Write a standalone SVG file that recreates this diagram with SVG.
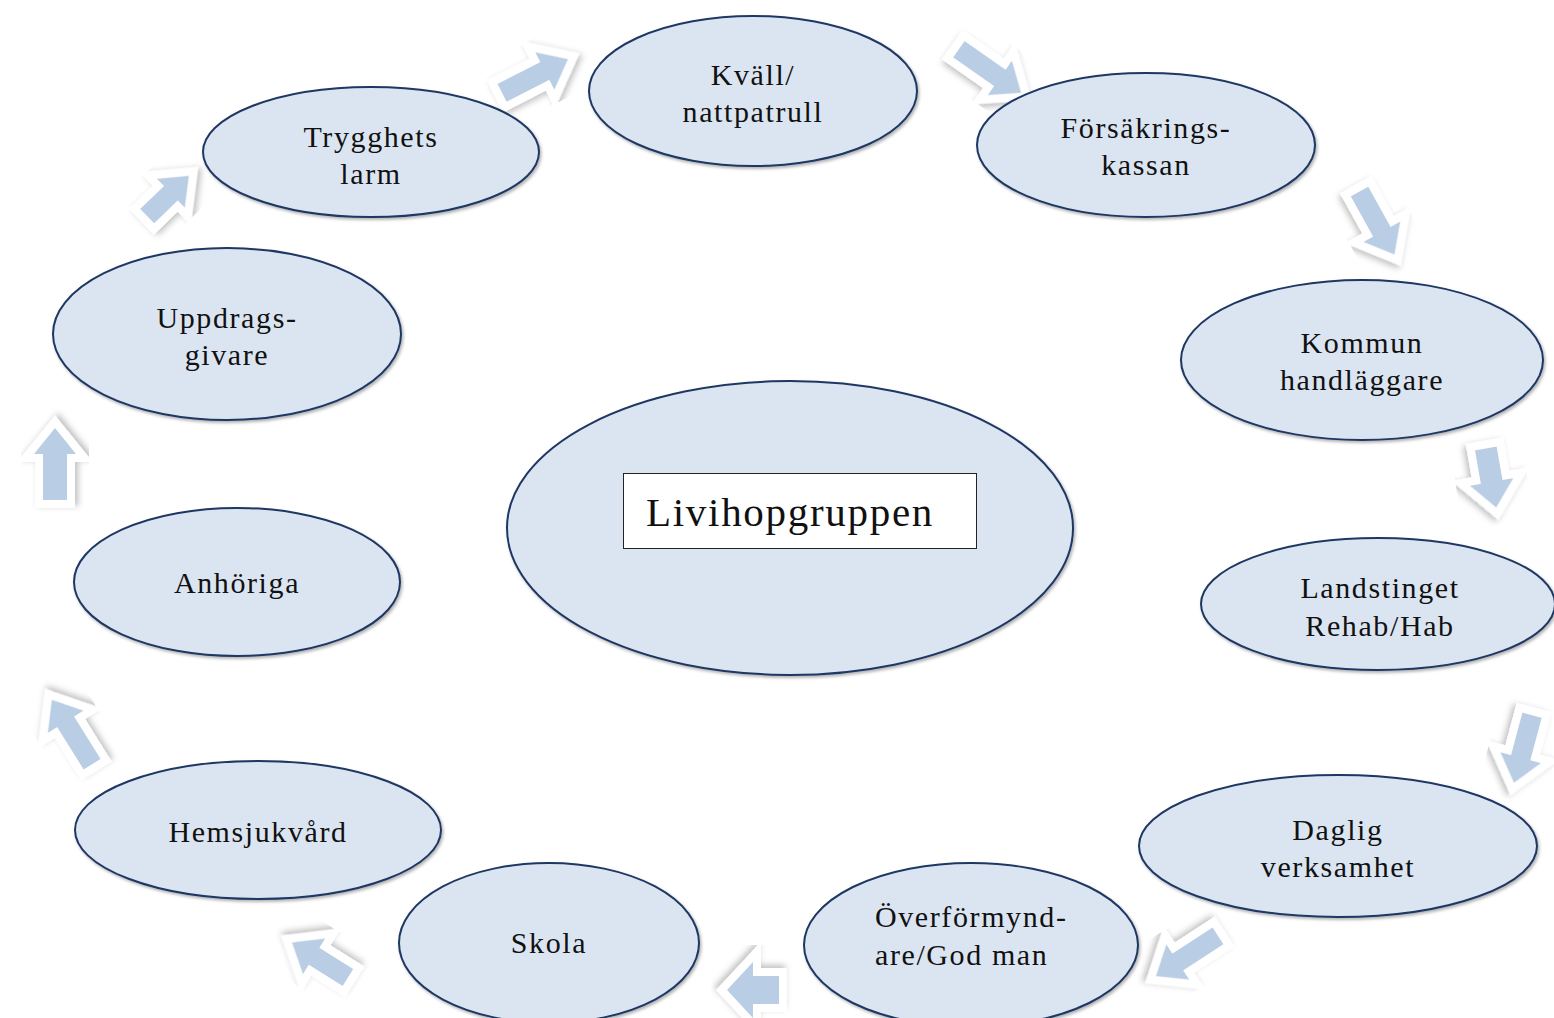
<svg xmlns="http://www.w3.org/2000/svg" width="1554" height="1018" viewBox="0 0 1554 1018">
<defs>
<filter id="sh" x="-20%" y="-20%" width="140%" height="140%">
<feDropShadow dx="1.5" dy="2" stdDeviation="1.5" flood-color="#000" flood-opacity="0.3"/>
</filter>
<filter id="ash" x="-30%" y="-30%" width="160%" height="160%">
<feDropShadow dx="2" dy="3" stdDeviation="3" flood-color="#000" flood-opacity="0.25"/>
</filter>
</defs>
<style>
.n{fill:#dbe5f1;stroke:#1f3763;stroke-width:2;filter:url(#sh)}
.t{font-family:"Liberation Serif","Times New Roman",serif;font-size:30px;letter-spacing:1.6px;fill:#111;text-anchor:middle}
.a{fill:#b9cde5;stroke:#fff;stroke-width:16;stroke-linejoin:miter;stroke-miterlimit:10;paint-order:stroke;filter:url(#ash)}
</style>
<rect width="1554" height="1018" fill="#fff"/>
<g id="connectors">
<path class="a" transform="translate(535,76) rotate(-27)" d="M-37,-10 H11 V-21 L37,0 L11,21 V10 H-37 Z"/>
<path class="a" transform="translate(990,71) rotate(35)" d="M-38,-10 H12 V-21 L38,0 L12,21 V10 H-38 Z"/>
<path class="a" transform="translate(1377,223) rotate(61)" d="M-36,-10 H10 V-21 L36,0 L10,21 V10 H-36 Z"/>
<path class="a" transform="translate(1491,478) rotate(80)" d="M-30,-11 H4 V-22 L30,0 L4,22 V11 H-30 Z"/>
<path class="a" transform="translate(1523,749) rotate(105)" d="M-35,-10 H9 V-21 L35,0 L9,21 V10 H-35 Z"/>
<path class="a" transform="translate(1187,956) rotate(147)" d="M-37,-10 H11 V-21 L37,0 L11,21 V10 H-37 Z"/>
<path class="a" transform="translate(753,990) rotate(180)" d="M-26,-14 H0 V-28 L26,0 L0,28 V14 H-26 Z"/>
<path class="a" transform="translate(320,960) rotate(212)" d="M-33,-10 H7 V-21 L33,0 L7,21 V10 H-33 Z"/>
<path class="a" transform="translate(72,732) rotate(238)" d="M-38,-10 H12 V-21 L38,0 L12,21 V10 H-38 Z"/>
<path class="a" transform="translate(55,464) rotate(-90)" d="M-36,-12 H10 V-21 L36,0 L10,21 V12 H-36 Z"/>
<path class="a" transform="translate(168,196) rotate(-44)" d="M-29,-10 H4 V-20 L29,0 L4,20 V10 H-29 Z"/>
</g>
<g id="center">
<ellipse class="n" cx="790" cy="528" rx="283" ry="147"/>
<rect x="623.5" y="473.5" width="353" height="75" fill="#fff" stroke="#222" stroke-width="1"/>
<text class="t" x="790" y="526" style="font-size:41px;letter-spacing:1.7px">Livihopgruppen</text>
</g>
<g id="kvall">
<ellipse class="n" cx="753" cy="91" rx="164" ry="75"/>
<text class="t" x="753" y="85">Kväll/</text>
<text class="t" x="753" y="122">nattpatrull</text>
</g>
<g id="forsakringskassan">
<ellipse class="n" cx="1146" cy="145" rx="169" ry="72"/>
<text class="t" x="1146" y="138">Försäkrings-</text>
<text class="t" x="1146" y="175">kassan</text>
</g>
<g id="trygghetslarm">
<ellipse class="n" cx="371" cy="152" rx="168" ry="65"/>
<text class="t" x="371" y="147">Trygghets</text>
<text class="t" x="371" y="184">larm</text>
</g>
<g id="uppdragsgivare">
<ellipse class="n" cx="227" cy="334" rx="174" ry="86"/>
<text class="t" x="227" y="328">Uppdrags-</text>
<text class="t" x="227" y="365">givare</text>
</g>
<g id="kommun">
<ellipse class="n" cx="1362" cy="360" rx="181" ry="80"/>
<text class="t" x="1362" y="353">Kommun</text>
<text class="t" x="1362" y="390">handläggare</text>
</g>
<g id="anhoriga">
<ellipse class="n" cx="237" cy="582" rx="163" ry="74"/>
<text class="t" x="237" y="593">Anhöriga</text>
</g>
<g id="landstinget">
<ellipse class="n" cx="1378" cy="604" rx="177" ry="66"/>
<text class="t" x="1380" y="598">Landstinget</text>
<text class="t" x="1380" y="636">Rehab/Hab</text>
</g>
<g id="hemsjukvard">
<ellipse class="n" cx="258" cy="830" rx="183" ry="69"/>
<text class="t" x="258" y="842">Hemsjukvård</text>
</g>
<g id="daglig">
<ellipse class="n" cx="1338" cy="846" rx="199" ry="71"/>
<text class="t" x="1338" y="840">Daglig</text>
<text class="t" x="1338" y="877">verksamhet</text>
</g>
<g id="skola">
<ellipse class="n" cx="549" cy="943" rx="150" ry="80"/>
<text class="t" x="549" y="953">Skola</text>
</g>
<g id="overformyndare">
<ellipse class="n" cx="971" cy="945" rx="167" ry="82"/>
<text class="t" x="875" y="927" style="text-anchor:start">Överförmynd-</text>
<text class="t" x="875" y="965" style="text-anchor:start">are/God man</text>
</g>
</svg>
